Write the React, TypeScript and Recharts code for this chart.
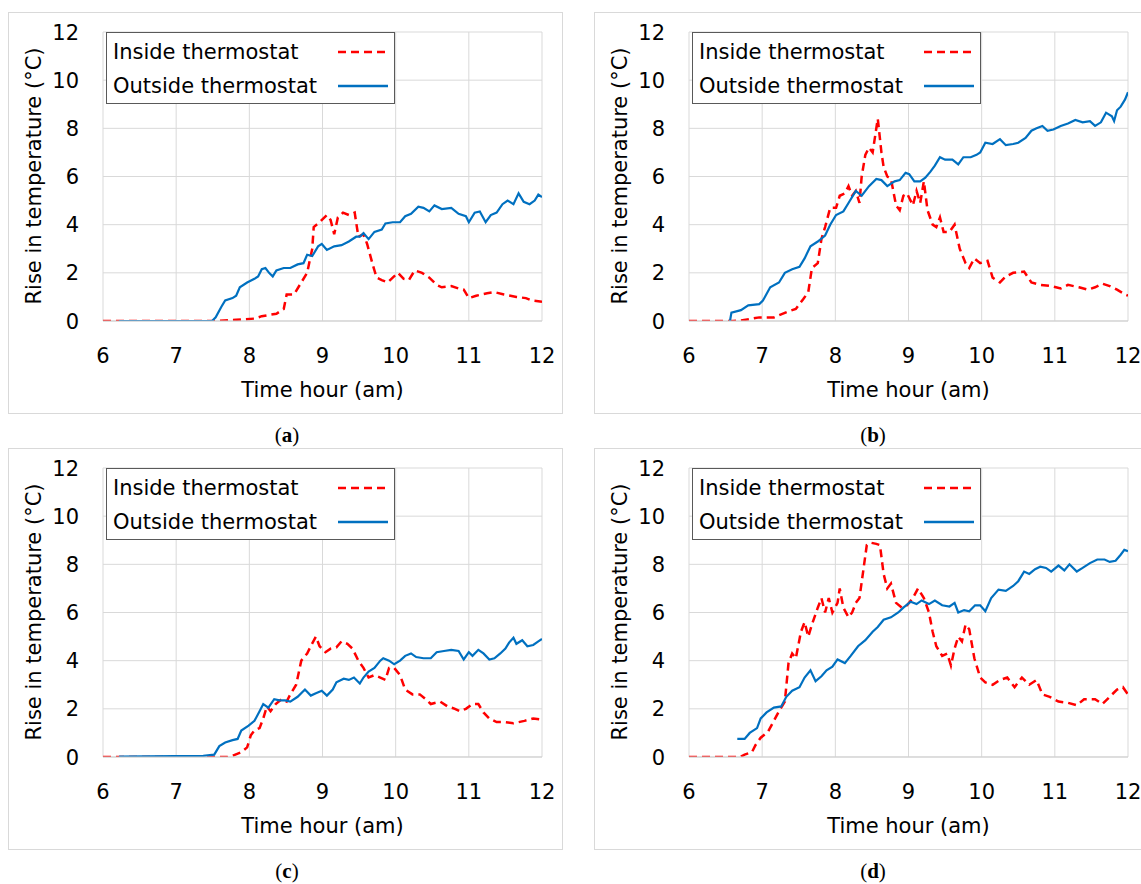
import { LineChart, Line, XAxis, YAxis, CartesianGrid, Legend } from 'recharts';

const X_TICKS = [6, 7, 8, 9, 10, 11, 12];
const Y_TICKS = [0, 2, 4, 6, 8, 10, 12];
const SERIES_NAMES = ['Inside thermostat', 'Outside thermostat'];
const PANEL_LABELS = ['a', 'b', 'c', 'd'];

// [time (h), rise (°C)]
const A_INSIDE = [
  [6, 0], [7.57, 0], [7.82, 0.05], [8.07, 0.1], [8.17, 0.2], [8.37, 0.3], [8.47, 0.5], [8.51, 1.1],
  [8.61, 1.1], [8.71, 1.6], [8.79, 2.0], [8.86, 3.0], [8.88, 3.9], [8.96, 4.1], [9.06, 4.4], [9.11, 4.2],
  [9.16, 3.6], [9.21, 4.3], [9.28, 4.5], [9.36, 4.4], [9.44, 4.5], [9.49, 3.5], [9.56, 3.6], [9.61, 3.2],
  [9.69, 2.3], [9.74, 1.8], [9.81, 1.7], [9.89, 1.6], [9.96, 1.8], [10.03, 2.0], [10.11, 1.75], [10.18, 1.7],
  [10.26, 2.1], [10.36, 2.0], [10.46, 1.8], [10.56, 1.5], [10.63, 1.4], [10.76, 1.45], [10.86, 1.35],
  [10.93, 1.3], [11.0, 0.95], [11.1, 1.05], [11.25, 1.15], [11.35, 1.2], [11.48, 1.1], [11.65, 1.0],
  [11.78, 0.95], [11.86, 0.85], [12, 0.8],
];
const A_OUTSIDE = [
  [6.22, 0], [7.49, 0], [7.54, 0.15], [7.62, 0.6], [7.67, 0.85], [7.77, 0.95], [7.82, 1.05], [7.87, 1.4],
  [7.97, 1.6], [8.07, 1.75], [8.12, 1.85], [8.17, 2.15], [8.22, 2.2], [8.27, 2.0], [8.32, 1.85], [8.37, 2.1],
  [8.47, 2.2], [8.56, 2.2], [8.66, 2.35], [8.74, 2.4], [8.79, 2.75], [8.86, 2.7], [8.94, 3.1], [8.99, 3.2],
  [9.06, 2.95], [9.16, 3.1], [9.26, 3.15], [9.36, 3.3], [9.46, 3.5], [9.51, 3.5], [9.56, 3.65], [9.63, 3.4],
  [9.71, 3.7], [9.81, 3.8], [9.86, 4.05], [9.96, 4.1], [10.06, 4.1], [10.13, 4.35], [10.21, 4.45],
  [10.31, 4.75], [10.38, 4.7], [10.46, 4.55], [10.53, 4.8], [10.63, 4.65], [10.76, 4.7], [10.86, 4.45],
  [10.96, 4.35], [11.0, 4.1], [11.08, 4.5], [11.15, 4.55], [11.23, 4.1], [11.3, 4.4], [11.38, 4.5],
  [11.46, 4.85], [11.53, 5.0], [11.61, 4.85], [11.68, 5.3], [11.75, 4.95], [11.83, 4.85], [11.9, 5.0],
  [11.95, 5.25], [12, 5.15],
];

const B_INSIDE = [
  [6, 0], [6.6, 0], [6.71, 0.02], [6.96, 0.15], [7.16, 0.15], [7.36, 0.4], [7.46, 0.5], [7.56, 0.9],
  [7.63, 1.2], [7.68, 2.2], [7.76, 2.4], [7.81, 3.4], [7.86, 3.9], [7.93, 4.7], [8.01, 4.7], [8.06, 5.2],
  [8.13, 5.3], [8.18, 5.6], [8.23, 5.2], [8.28, 5.4], [8.33, 4.9], [8.36, 6.0], [8.41, 6.9], [8.46, 7.2],
  [8.51, 7.0], [8.58, 8.4], [8.63, 7.0], [8.66, 6.4], [8.71, 6.0], [8.76, 5.9], [8.83, 4.8], [8.88, 4.6],
  [8.93, 5.2], [8.98, 5.3], [9.06, 4.8], [9.11, 5.4], [9.16, 4.9], [9.21, 5.8], [9.26, 4.6], [9.33, 4.0],
  [9.38, 3.9], [9.43, 4.3], [9.48, 3.7], [9.56, 3.7], [9.63, 4.0], [9.7, 3.0], [9.78, 2.4], [9.83, 2.2],
  [9.9, 2.6], [9.98, 2.4], [10.08, 2.5], [10.15, 1.8], [10.25, 1.6], [10.33, 1.85], [10.43, 2.0],
  [10.58, 2.05], [10.68, 1.6], [10.8, 1.5], [10.95, 1.45], [11.08, 1.35], [11.18, 1.5], [11.33, 1.4],
  [11.45, 1.3], [11.55, 1.4], [11.65, 1.55], [11.75, 1.45], [11.85, 1.3], [11.96, 1.1], [12, 1.05],
];
const B_OUTSIDE = [
  [6.56, 0], [6.58, 0.35], [6.71, 0.45], [6.81, 0.65], [6.96, 0.7], [7.01, 0.85], [7.11, 1.4], [7.23, 1.6],
  [7.31, 2.0], [7.41, 2.15], [7.51, 2.25], [7.58, 2.6], [7.66, 3.1], [7.76, 3.3], [7.86, 3.55], [7.93, 4.0],
  [8.01, 4.4], [8.11, 4.55], [8.18, 4.9], [8.28, 5.4], [8.36, 5.2], [8.46, 5.6], [8.56, 5.9], [8.63, 5.85],
  [8.71, 5.6], [8.81, 5.8], [8.88, 5.85], [8.96, 6.15], [9.01, 6.1], [9.08, 5.8], [9.16, 5.8], [9.23, 5.95],
  [9.3, 6.2], [9.36, 6.45], [9.43, 6.8], [9.5, 6.7], [9.6, 6.7], [9.68, 6.5], [9.75, 6.8], [9.85, 6.8],
  [9.93, 6.9], [9.98, 7.0], [10.05, 7.4], [10.15, 7.35], [10.25, 7.55], [10.33, 7.3], [10.43, 7.35],
  [10.5, 7.4], [10.6, 7.6], [10.68, 7.9], [10.75, 8.0], [10.83, 8.1], [10.9, 7.9], [10.98, 7.95],
  [11.08, 8.1], [11.18, 8.2], [11.28, 8.35], [11.38, 8.25], [11.48, 8.3], [11.55, 8.1], [11.63, 8.25],
  [11.7, 8.65], [11.78, 8.5], [11.81, 8.3], [11.85, 8.75], [11.9, 8.9], [11.96, 9.2], [12, 9.5],
];

const C_INSIDE = [
  [6, 0], [7.7, 0], [7.77, 0.05], [7.89, 0.2], [7.97, 0.4], [8.02, 0.9], [8.07, 1.1], [8.14, 1.2],
  [8.19, 1.6], [8.24, 2.1], [8.29, 1.9], [8.36, 2.2], [8.44, 2.4], [8.51, 2.3], [8.56, 2.6], [8.64, 3.0],
  [8.71, 4.0], [8.79, 4.3], [8.84, 4.6], [8.91, 5.0], [8.96, 4.6], [9.04, 4.35], [9.11, 4.5], [9.19, 4.55],
  [9.26, 4.8], [9.34, 4.7], [9.41, 4.5], [9.49, 4.0], [9.56, 3.7], [9.63, 3.3], [9.71, 3.4], [9.79, 3.3],
  [9.86, 3.2], [9.91, 3.7], [9.98, 3.7], [10.06, 3.4], [10.13, 2.8], [10.23, 2.6], [10.33, 2.6],
  [10.41, 2.4], [10.48, 2.2], [10.61, 2.3], [10.71, 2.1], [10.81, 2.0], [10.88, 1.9], [10.96, 2.0],
  [11.05, 2.2], [11.13, 2.2], [11.2, 1.85], [11.28, 1.6], [11.38, 1.45], [11.48, 1.45], [11.61, 1.4],
  [11.76, 1.5], [11.88, 1.6], [12, 1.55],
];
const C_OUTSIDE = [
  [6.22, 0.02], [7.37, 0.05], [7.52, 0.1], [7.59, 0.45], [7.67, 0.6], [7.77, 0.7], [7.84, 0.75], [7.89, 1.1],
  [7.99, 1.3], [8.07, 1.5], [8.14, 1.9], [8.19, 2.2], [8.26, 2.05], [8.34, 2.4], [8.41, 2.35], [8.49, 2.35],
  [8.56, 2.3], [8.66, 2.5], [8.76, 2.8], [8.84, 2.55], [8.91, 2.65], [8.99, 2.75], [9.06, 2.55], [9.14, 2.8],
  [9.19, 3.1], [9.29, 3.25], [9.36, 3.2], [9.43, 3.3], [9.51, 3.05], [9.56, 3.3], [9.63, 3.55], [9.71, 3.7],
  [9.79, 4.0], [9.83, 4.1], [9.91, 4.0], [9.98, 3.85], [10.06, 4.0], [10.13, 4.2], [10.21, 4.3],
  [10.28, 4.15], [10.38, 4.1], [10.48, 4.1], [10.56, 4.35], [10.66, 4.4], [10.76, 4.45], [10.86, 4.4],
  [10.93, 4.05], [11.0, 4.35], [11.05, 4.2], [11.13, 4.45], [11.2, 4.3], [11.28, 4.05], [11.35, 4.1],
  [11.43, 4.3], [11.5, 4.5], [11.55, 4.75], [11.61, 4.95], [11.65, 4.7], [11.73, 4.85], [11.8, 4.6],
  [11.88, 4.65], [11.95, 4.8], [12, 4.9],
];

const D_INSIDE = [
  [6, 0], [6.7, 0], [6.76, 0.1], [6.86, 0.2], [6.91, 0.5], [6.98, 0.8], [7.08, 1.05], [7.16, 1.5],
  [7.23, 1.9], [7.31, 2.3], [7.36, 3.9], [7.41, 4.3], [7.46, 4.1], [7.53, 5.2], [7.58, 5.6], [7.63, 5.0],
  [7.68, 5.5], [7.76, 6.2], [7.81, 6.6], [7.86, 6.0], [7.91, 6.6], [7.96, 6.0], [8.03, 6.4], [8.06, 7.0],
  [8.11, 6.2], [8.18, 5.8], [8.23, 6.0], [8.28, 6.4], [8.33, 6.6], [8.38, 7.7], [8.43, 8.8], [8.48, 8.9],
  [8.56, 8.85], [8.61, 8.8], [8.66, 7.6], [8.71, 7.0], [8.76, 7.2], [8.83, 6.4], [8.91, 6.2], [8.98, 6.3],
  [9.06, 6.6], [9.13, 7.0], [9.21, 6.6], [9.28, 6.0], [9.33, 5.2], [9.38, 4.6], [9.46, 4.2], [9.53, 4.3],
  [9.58, 3.8], [9.63, 4.5], [9.68, 5.0], [9.73, 4.8], [9.78, 5.5], [9.83, 5.3], [9.9, 4.1], [9.98, 3.3],
  [10.05, 3.1], [10.15, 3.0], [10.25, 3.2], [10.35, 3.3], [10.45, 2.9], [10.55, 3.3], [10.65, 3.0],
  [10.75, 3.2], [10.83, 2.6], [10.93, 2.5], [11.05, 2.3], [11.18, 2.25], [11.3, 2.15], [11.4, 2.4],
  [11.55, 2.4], [11.65, 2.2], [11.75, 2.5], [11.85, 2.8], [11.93, 2.9], [12, 2.6],
];
const D_OUTSIDE = [
  [6.66, 0.75], [6.76, 0.75], [6.83, 1.0], [6.93, 1.2], [6.98, 1.6], [7.06, 1.85], [7.16, 2.05], [7.26, 2.1],
  [7.33, 2.5], [7.41, 2.75], [7.51, 2.9], [7.58, 3.3], [7.66, 3.6], [7.73, 3.15], [7.81, 3.35], [7.88, 3.6],
  [7.96, 3.75], [8.03, 4.05], [8.13, 3.9], [8.21, 4.2], [8.31, 4.6], [8.41, 4.85], [8.51, 5.2], [8.58, 5.4],
  [8.66, 5.7], [8.76, 5.8], [8.86, 6.0], [8.93, 6.2], [9.03, 6.45], [9.11, 6.35], [9.18, 6.5], [9.28, 6.35],
  [9.36, 6.5], [9.46, 6.3], [9.56, 6.25], [9.63, 6.4], [9.68, 6.0], [9.76, 6.1], [9.83, 6.05], [9.91, 6.3],
  [9.98, 6.3], [10.05, 6.05], [10.13, 6.6], [10.23, 6.95], [10.33, 6.9], [10.43, 7.1], [10.5, 7.3],
  [10.58, 7.7], [10.65, 7.6], [10.73, 7.8], [10.8, 7.9], [10.88, 7.85], [10.95, 7.7], [11.05, 7.95],
  [11.13, 7.75], [11.2, 8.0], [11.3, 7.7], [11.38, 7.85], [11.48, 8.05], [11.58, 8.2], [11.68, 8.2],
  [11.75, 8.1], [11.83, 8.15], [11.9, 8.4], [11.95, 8.6], [12, 8.55],
];

const PANELS = [
  { label: PANEL_LABELS[0], inside: A_INSIDE, outside: A_OUTSIDE, left: 8, top: 12 },
  { label: PANEL_LABELS[1], inside: B_INSIDE, outside: B_OUTSIDE, left: 594, top: 12 },
  { label: PANEL_LABELS[2], inside: C_INSIDE, outside: C_OUTSIDE, left: 8, top: 448 },
  { label: PANEL_LABELS[3], inside: D_INSIDE, outside: D_OUTSIDE, left: 594, top: 448 },
];

const FONT = '"DejaVu Sans", sans-serif';
const SERIF = '"Liberation Serif", serif';
const FS = 21;
const GRID = '#d9d9d9';
const RED = '#ff0000';
const BLUE = '#0070c0';
const W = 555;
const H = 402;

const toPoints = (arr: number[][]) => arr.map(([t, v]) => ({ t, v }));

const XTick = ({ x, y, payload }: any) => (
  <text x={x} y={y + 34} dy="0.36em" textAnchor="middle" fontSize={FS} fontFamily={FONT} fill="#000">
    {payload.value}
  </text>
);

const YTick = ({ x, y, payload }: any) => (
  <text x={x - 24} y={y} dy="0.36em" textAnchor="end" fontSize={FS} fontFamily={FONT} fill="#000">
    {payload.value}
  </text>
);

const renderLegend = ({ payload }: any) => (
  <div
    style={{
      width: 289,
      height: 72,
      boxSizing: 'border-box',
      border: '1px solid #595959',
      background: '#fff',
      fontFamily: FONT,
      fontSize: FS,
      color: '#000',
      position: 'relative',
    }}
  >
    {(payload || []).map((entry: any, i: number) => (
      <div
        key={entry.value}
        style={{ position: 'absolute', left: 6, top: i === 0 ? 7 : 41, height: 24, lineHeight: '24px', width: 276, whiteSpace: 'nowrap' }}
      >
        <span>{entry.value}</span>
        <svg style={{ position: 'absolute', left: 225, top: 0 }} width={50} height={24}>
          <line
            x1={0}
            x2={50}
            y1={12}
            y2={12}
            stroke={entry.color}
            strokeWidth={2.5}
            strokeDasharray={entry.payload?.strokeDasharray}
          />
        </svg>
      </div>
    ))}
  </div>
);

function Panel({ label, inside, outside, left, top }: any) {
  return (
    <div style={{ position: 'absolute', left, top, width: W, height: 440 }}>
      <div
        style={{
          position: 'absolute',
          left: 0,
          top: 0,
          width: W,
          height: H,
          boxSizing: 'border-box',
          border: `1px solid ${GRID}`,
        }}
      />
      <div style={{ position: 'absolute', left: 0, top: 0 }}>
        <LineChart width={W} height={H} margin={{ top: 20, right: 21, left: 0, bottom: 0 }}>
          <CartesianGrid stroke={GRID} strokeWidth={1} />
          <XAxis
            dataKey="t"
            type="number"
            domain={[6, 12]}
            ticks={X_TICKS}
            allowDataOverflow
            height={93}
            tickLine={false}
            tickSize={0}
            tickMargin={0}
            axisLine={{ stroke: '#cfcfcf' }}
            tick={XTick}
          />
          <YAxis
            type="number"
            domain={[0, 12]}
            ticks={Y_TICKS}
            allowDataOverflow
            width={95}
            tickLine={false}
            tickSize={0}
            tickMargin={0}
            axisLine={false}
            tick={YTick}
          />
          <Legend
            layout="horizontal"
            verticalAlign="middle"
            align="center"
            width={289}
            height={72}
            wrapperStyle={{ left: 98, top: 20, width: 289, height: 72 }}
            content={renderLegend}
          />
          <Line
            data={toPoints(inside)}
            dataKey="v"
            name={SERIES_NAMES[0]}
            type="linear"
            stroke={RED}
            strokeWidth={2.5}
            strokeDasharray="8 5"
            dot={false}
            activeDot={false}
            isAnimationActive={false}
          />
          <Line
            data={toPoints(outside)}
            dataKey="v"
            name={SERIES_NAMES[1]}
            type="linear"
            stroke={BLUE}
            strokeWidth={2.2}
            dot={false}
            activeDot={false}
            isAnimationActive={false}
          />
        </LineChart>
      </div>
      <svg
        width={W}
        height={440}
        style={{ position: 'absolute', left: 0, top: 0, pointerEvents: 'none', overflow: 'visible' }}
      >
        <text
          x={25}
          y={164}
          dy="0.36em"
          transform="rotate(-90, 25, 164)"
          textAnchor="middle"
          fontSize={FS}
          fontFamily={FONT}
          fill="#000"
        >
          Rise in temperature (°C)
        </text>
        <text x={314.5} y={377} dy="0.36em" textAnchor="middle" fontSize={FS} fontFamily={FONT} fill="#000">
          Time hour (am)
        </text>
        <text x={279} y={423} dy="0.35em" textAnchor="middle" fontSize={21} fontFamily={SERIF} fill="#000">
          (<tspan fontWeight="bold">{label}</tspan>)
        </text>
      </svg>
    </div>
  );
}

export default function App() {
  return (
    <div
      style={{
        position: 'absolute',
        left: 0,
        top: 0,
        width: 1141,
        height: 884,
        overflow: 'hidden',
        background: '#fff',
      }}
    >
      {PANELS.map((p) => (
        <Panel key={p.label} {...p} />
      ))}
    </div>
  );
}
